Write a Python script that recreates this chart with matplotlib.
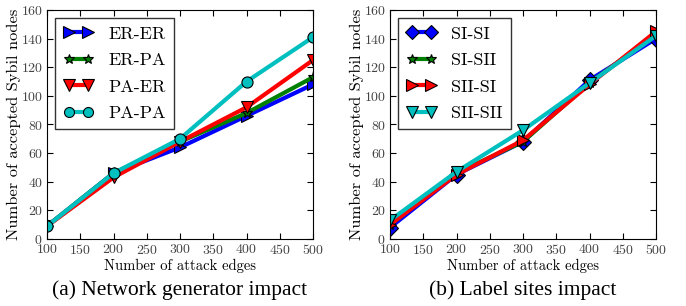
import matplotlib
matplotlib.use("Agg")
import matplotlib.pyplot as plt

x = [100, 200, 300, 400, 500]

left_names = ["ER-ER", "ER-PA", "PA-ER", "PA-PA"]
er_er = [9, 46, 64, 86, 108]
er_pa = [9, 46, 68, 88, 113]
pa_er = [9, 43, 68, 92, 125]
pa_pa = [9, 46, 70, 110, 141]

right_names = ["SI-SI", "SI-SII", "SII-SI", "SII-SII"]
si_si = [8, 45, 68, 111, 140]
si_sii = [10, 46, 68, 109, 143]
sii_si = [10, 45, 69, 108, 145]
sii_sii = [13, 47, 76, 109, 142]

xticks = [100, 150, 200, 250, 300, 350, 400, 450, 500]
yticks = [0, 20, 40, 60, 80, 100, 120, 140, 160]

plt.rcParams['font.family'] = ['cmr10']
plt.rcParams['axes.formatter.use_mathtext'] = True
plt.rcParams['mathtext.fontset'] = 'cm'

W, H = 686, 306
fig = plt.figure(figsize=(W / 100, H / 100), dpi=100)

def box(l, t, r, b):
    return [l / W, 1 - b / H, (r - l) / W, (b - t) / H]

axL = fig.add_axes(box(47, 10, 313, 239))
axR = fig.add_axes(box(390, 10, 656, 239))

styles_left = [
    (er_er, 'blue', '>', 9),
    (er_pa, 'green', '*', 8),
    (pa_er, 'red', 'v', 9),
    (pa_pa, 'c', 'o', 8),
]
styles_right = [
    (si_si, 'blue', 'D', 8),
    (si_sii, 'green', '*', 8),
    (sii_si, 'red', '>', 9),
    (sii_sii, 'c', 'v', 9),
]

for ax, styles, names in [(axL, styles_left, left_names), (axR, styles_right, right_names)]:
    for (vals, c, m, ms), name in zip(styles, names):
        ax.plot(x, vals, color=c, marker=m, markersize=ms, linewidth=3,
                markeredgecolor='black', markeredgewidth=0.8, label=name)
    ax.set_xlim(100, 500)
    ax.set_ylim(0, 160)
    ax.set_xticks(xticks)
    ax.set_yticks(yticks)
    ax.tick_params(direction='in', top=True, right=True, labelsize=10, length=4,
                   labelcolor='#444444', pad=3)
    ax.set_xlabel("Number of attack edges", fontsize=10.5, labelpad=1)
    ax.set_ylabel("Number of accepted Sybil nodes", fontsize=11.8, labelpad=0)
    leg = ax.legend(loc='upper left', fontsize=13, frameon=True, fancybox=False,
                    edgecolor='black', handlelength=1.7, borderpad=0.45,
                    labelspacing=0.6, numpoints=2, handletextpad=0.8,
                    borderaxespad=0, bbox_to_anchor=(0.03, 0.965),
                    markerscale=0.9)
    leg.get_frame().set_linewidth(1.0)

fig.text((47 + 313) / 2 / W, 1 - 290 / H, "(a) Network generator impact",
         family=['Liberation Serif'], fontsize=15.5, ha='center', va='center')
fig.text((390 + 656) / 2 / W, 1 - 290 / H, "(b) Label sites impact",
         family=['Liberation Serif'], fontsize=15.5, ha='center', va='center')

fig.savefig("out.png", dpi=100)
